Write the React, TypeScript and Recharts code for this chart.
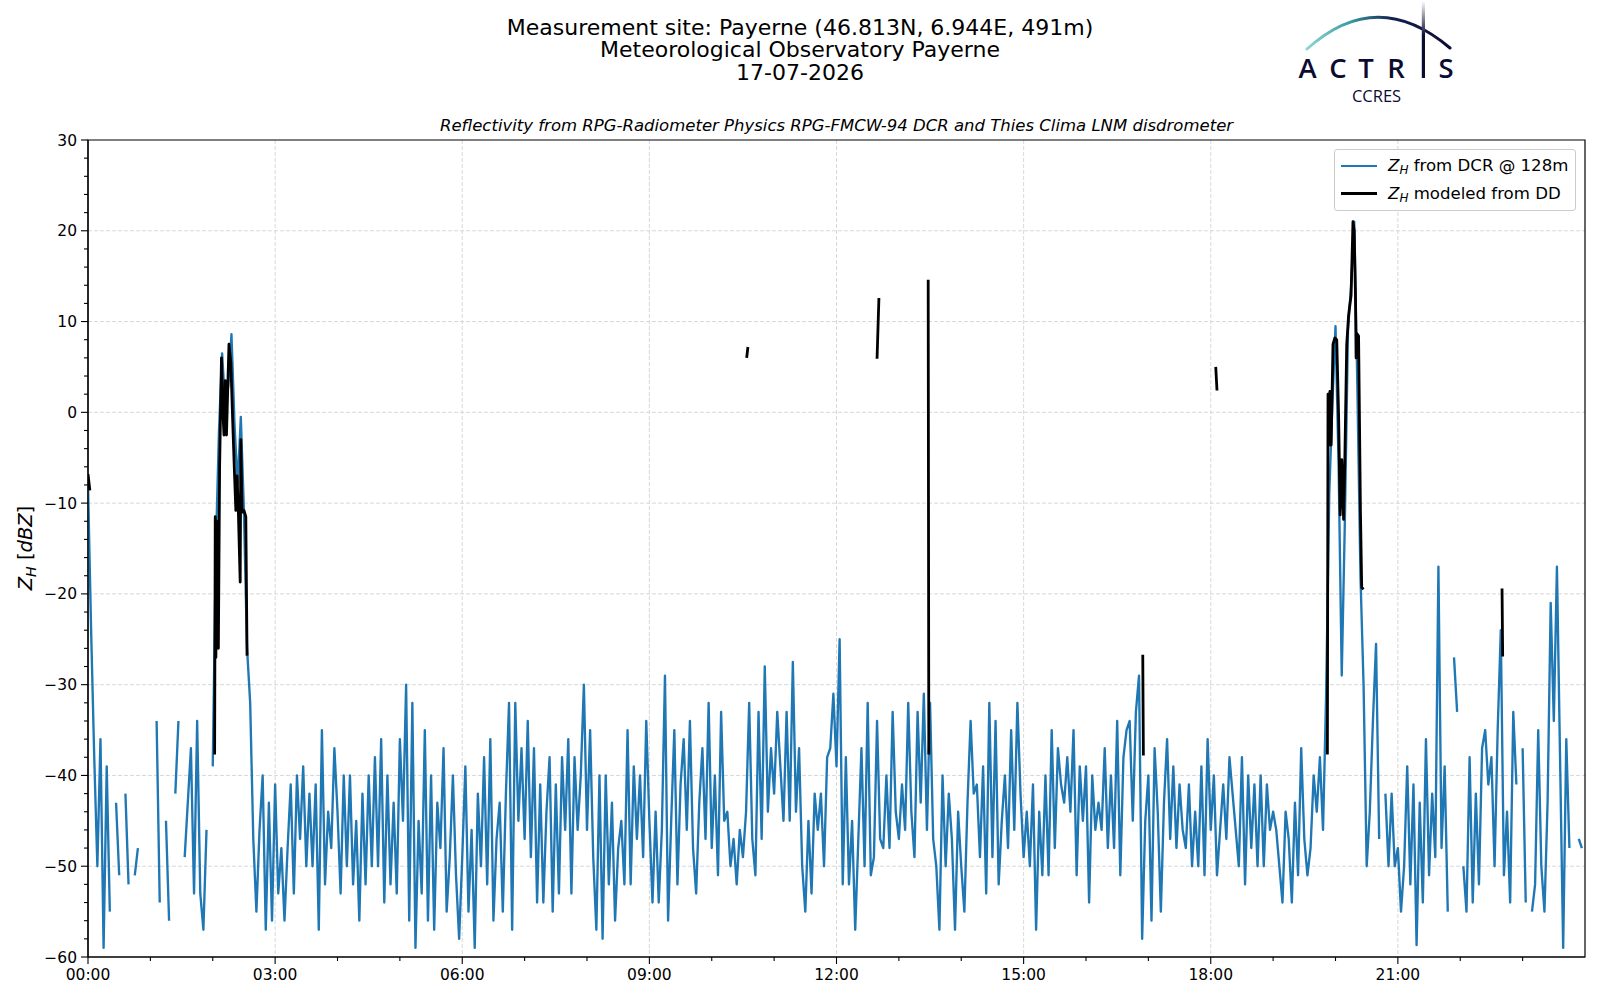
import React from "react";
import { LineChart, Line, XAxis, YAxis, CartesianGrid, ReferenceArea } from "recharts";

// DCR reflectivity at 128 m, 3-minute samples, one array per 3-hour block (null = no echo)
const dcr00 = [
  -8, -24, -38, -50, -36, -59, -39, -55, null, -43,
  -51, null, -42, -52, null, -51, -48, null, null, null,
  null, null, -34, -54, null, -45, -56, null, -42, -34,
  null, -49, -43, -37, -53, -34, -53, -57, -46, null,
  -39, -15, -2, 6.5, 0.5, 3, 8.6, -1.5, -8, -0.5,
  -11, -26, -32, -47, -55, -46, -40, -57, -43, -56,
];
const dcr03 = [
  -41, -53, -48, -56, -48, -41, -53, -40, -47, -39,
  -50, -42, -50, -41, -57, -35, -52, -44, -48, -37,
  -44, -53, -40, -50, -40, -52, -45, -56, -42, -52,
  -40, -50, -38, -50, -36, -54, -40, -52, -43, -53,
  -36, -45, -30, -56, -32, -59, -45, -53, -35, -56,
  -40, -57, -43, -48, -37, -55, -49, -40, -51, -58,
];
const dcr06 = [
  -49, -39, -55, -46, -59, -42, -50, -38, -52, -36,
  -56, -47, -43, -55, -42, -32, -57, -32, -45, -37,
  -47, -34, -49, -37, -54, -41, -54, -44, -38, -55,
  -41, -53, -38, -46, -36, -53, -38, -46, -40, -30,
  -46, -35, -49, -57, -40, -58, -40, -52, -43, -56,
  -48, -45, -52, -35, -52, -39, -47, -40, -49, -34,
];
const dcr09 = [
  -45, -54, -44, -54, -46, -29, -56, -45, -35, -52,
  -41, -36, -46, -34, -48, -53, -43, -37, -47, -32,
  -48, -40, -51, -33, -45, -44, -50, -47, -52, -46,
  -49, -44, -32, -47, -51, -33, -47, -28, -44, -37,
  -42, -33, -39, -45, -33, -45, -27.5, -44, -37, -50,
  -55, -45, -53, -42, -46, -42, -50, -38, -37, -31,
];
const dcr12 = [
  -39, -25, -52, -38, -52, -45, -57, -47, -37, -50,
  -32, -51, -49, -34, -47, -48, -40, -48, -33, -44,
  -47, -41, -46, -32, -44, -49, -33, -43, -31, -46,
  -32, -47, -50, -57, -40, -50, -42, -47, -57, -44,
  -50, -55, -43, -34, -42, -41, -49, -39, -53, -32,
  -49, -34, -52, -45, -40, -48, -35, -46, -32, -42,
];
const dcr15 = [
  -49, -44, -50, -41, -57, -44, -51, -40, -51, -35,
  -48, -37, -41, -43, -38, -44, -35, -51, -39, -45,
  -39, -54, -40, -46, -43, -46, -37, -48, -40, -48,
  -34, -51, -38, -35, -34, -45, -33, -29, -58, -45,
  -40, -56, -37, -44, -55, -43, -36, -47, -39, -48,
  -41, -46, -48, -41, -50, -44, -50, -39, -51, -36,
];
const dcr18 = [
  -46, -40, -51, -46, -41, -47, -38, -42, -46, -50,
  -38, -52, -40, -48, -41, -50, -40, -50, -41, -46,
  -44, -46, -50, -54, -44, -47, -54, -43, -51, -37,
  -47, -51, -48, -40, -44, -38, -46, -31, -9, 1,
  9.5, -6, -29, -12, 9, 14, 21, 3, -18, -30,
  -50, -44, -34, -25.5, -47, null, -42, -50, -42, -50,
];
const dcr21 = [
  -48, -55, -50, -39, -52, -41, -58.7, -43, -54, -36,
  -51, -42, -49, -17, -48, -39, -55, null, -27, -33,
  null, -50, -55, -38, -54, -42, -52, -37, -35, -41,
  -38, -50, -35, -24, -51, -44, -54, -33, -41, null,
  -37, -54, null, -55, -52, -35, -50, -55, -43, -21,
  -34, -17, -38, -59, -36, -48, null, null, -47, -48,
];
const dcrBlocks = [dcr00, dcr03, dcr06, dcr09, dcr12, dcr15, dcr18, dcr21];
const STEP_H = 0.05;

// reflectivity modeled from the disdrometer (hour, dBZ), null breaks the line
const ddTime = [
  0.0, 0.03, 0.05,
  2.03, 2.04, 2.05, 2.07, 2.09, 2.11, 2.14, 2.16, 2.18, 2.2, 2.22, 2.26, 2.29, 2.32,
  2.35, 2.37, 2.39, 2.41, 2.44, 2.45, 2.47, 2.5, 2.53, 2.55, 2.6,
  10.56, 10.58, 10.6,
  12.65, 12.68, 12.7,
  13.47, 13.48, 13.5,
  16.91, 16.92, 16.95,
  18.08, 18.1, 18.12,
  19.87, 19.88, 19.9, 19.91, 19.93, 19.96, 19.99, 20.02, 20.05, 20.075, 20.1, 20.13,
  20.15, 20.18, 20.21, 20.25, 20.28, 20.3, 20.32, 20.33, 20.34, 20.37, 20.4, 20.42, 20.45, 20.5,
  22.67, 22.68,
];
const ddZ = [
  -6.8, -8.6, null,
  -37.7, -11.5, -27, -12, -26, -6, 6, 0.5, -2.5, 3.5, -2.5, 7.5, 5.5, -1,
  -7, -10.8, -7, -10.8, -18.7, -3, -11, -10.8, -11.5, -26.8, null,
  6.0, 7.2, null,
  5.9, 12.6, null,
  14.6, -37.7, null,
  -26.7, -37.8, null,
  5.0, 2.4, null,
  -37.7, 2, -3.6, 2.3, -3.6, 7.5, 8.2, 8, -0.4, -11.3, -5.2, -11.8,
  -5, 7.5, 10.7, 12.9, 21, 20, 12.9, 6, 8.7, 8.4, -11, -19.3, -19.5, null,
  -19.4, -26.9,
];

const hourTicks = [0, 1, 2, 3, 4, 5, 6, 7, 8, 9, 10, 11, 12, 13, 14, 15, 16, 17, 18, 19, 20, 21, 22, 23];
const hourLabels = ["00:00", "03:00", "06:00", "09:00", "12:00", "15:00", "18:00", "21:00"];
const gridHours = [3, 6, 9, 12, 15, 18, 21];
const dbzTicks = [
  -60, -58, -56, -54, -52, -50, -48, -46, -44, -42, -40, -38, -36, -34, -32, -30,
  -28, -26, -24, -22, -20, -18, -16, -14, -12, -10, -8, -6, -4, -2, 0, 2, 4, 6, 8,
  10, 12, 14, 16, 18, 20, 22, 24, 26, 28, 30,
];
const gridDbz = [-50, -40, -30, -20, -10, 0, 10, 20];

const dcrData = dcrBlocks.flatMap((block, b) => block.map((z, i) => ({ t: b * 3 + i * STEP_H, z })));
const ddData = ddTime.map((t, i) => ({ t, z: ddZ[i] }));

const FONT = "'DejaVu Sans', sans-serif";
const BLUE = "#1f77b4";
const NAVY = "#0c0c33";

const HourTick = (props: any) => {
  const { x, y, payload } = props;
  const h = payload.value;
  const major = h % 3 === 0;
  return (
    <g>
      <line x1={x} x2={x} y1={y} y2={y + (major ? 7 : 4)} stroke="#000" strokeWidth={1.1} />
      {major && (
        <text x={x} y={y + 11.5} dy="0.76em" textAnchor="middle" fontSize={15.5} fontFamily={FONT} fill="#000">
          {hourLabels[h / 3]}
        </text>
      )}
    </g>
  );
};

const DbzTick = (props: any) => {
  const { x, y, payload } = props;
  const v = payload.value;
  const major = v % 10 === 0;
  const label = v < 0 ? "\u2212" + Math.abs(v) : String(v);
  return (
    <g>
      <line x1={x - (major ? 7 : 4)} x2={x} y1={y} y2={y} stroke="#000" strokeWidth={1.1} />
      {major && (
        <text x={x - 11} y={y} dy="0.36em" textAnchor="end" fontSize={15.5} fontFamily={FONT} fill="#000">
          {label}
        </text>
      )}
    </g>
  );
};

const ZH = () => (
  <>
    <span style={{ fontStyle: "italic" }}>Z</span>
    <span style={{ fontStyle: "italic", fontSize: "0.72em", position: "relative", top: "0.3em" }}>H</span>
  </>
);

const Logo = () => (
  <svg width={200} height={110} style={{ position: "absolute", left: 1280, top: 0 }}>
    <defs>
      <linearGradient id="arcGrad" x1="0" y1="0" x2="1" y2="0">
        <stop offset="0" stopColor="#8fd6cf" />
        <stop offset="0.3" stopColor="#3a9ca3" />
        <stop offset="0.6" stopColor="#13204d" />
        <stop offset="1" stopColor={NAVY} />
      </linearGradient>
      <linearGradient id="barGrad" x1="0" y1="0" x2="0" y2="1">
        <stop offset="0" stopColor="#ffffff" />
        <stop offset="0.45" stopColor={NAVY} />
        <stop offset="1" stopColor={NAVY} />
      </linearGradient>
    </defs>
    <path d="M27 49 Q97 -14 170 48" fill="none" stroke="url(#arcGrad)" strokeWidth={3} strokeLinecap="round" />
    <rect x={141.8} y={1} width={3.2} height={77} fill="url(#barGrad)" />
    <g fontFamily="'Open Sans', Lato, sans-serif" fontWeight={600} fontSize={27.5} fill={NAVY} textAnchor="middle">
      <text x={27.5} y={78}>A</text>
      <text x={58} y={78}>C</text>
      <text x={86} y={78}>T</text>
      <text x={116} y={78}>R</text>
      <text x={166} y={78}>S</text>
    </g>
    <text x={96.5} y={102} fontFamily="'Open Sans', sans-serif" fontSize={16.5} fill={NAVY} textAnchor="middle">
      CCRES
    </text>
  </svg>
);

export default function App() {
  return (
    <div
      style={{
        position: "absolute",
        left: 0,
        top: 0,
        width: 1600,
        height: 1000,
        background: "#fff",
        fontFamily: FONT,
        color: "#000",
      }}
    >
      <div style={{ position: "absolute", left: 0, top: 0 }}>
        <LineChart width={1600} height={1000} margin={{ top: 140, right: 15, bottom: 13, left: 28 }}>
          <CartesianGrid
            stroke="#d4d4d4"
            strokeDasharray="4 2"
            strokeWidth={0.9}
            horizontalValues={gridDbz}
            verticalValues={gridHours}
          />
          <XAxis
            dataKey="t"
            type="number"
            domain={[0, 24]}
            ticks={hourTicks}
            interval={0}
            height={30}
            tickSize={0}
            tickMargin={0}
            tickLine={false}
            axisLine={{ stroke: "#000", strokeWidth: 1.2 }}
            tick={(p: any) => <HourTick {...p} />}
            allowDataOverflow
          />
          <YAxis
            type="number"
            domain={[-60, 30]}
            ticks={dbzTicks}
            interval={0}
            width={60}
            tickSize={0}
            tickMargin={0}
            tickLine={false}
            axisLine={{ stroke: "#000", strokeWidth: 1.2 }}
            tick={(p: any) => <DbzTick {...p} />}
            allowDataOverflow
          />
          <Line
            data={dcrData}
            dataKey="z"
            type="linear"
            stroke={BLUE}
            strokeWidth={2.35}
            strokeLinejoin="round"
            dot={false}
            activeDot={false}
            connectNulls={false}
            isAnimationActive={false}
          />
          <Line
            data={ddData}
            dataKey="z"
            type="linear"
            stroke="#000"
            strokeWidth={2.8}
            strokeLinejoin="round"
            dot={false}
            activeDot={false}
            connectNulls={false}
            isAnimationActive={false}
          />
          <ReferenceArea x1={0} x2={24} y1={-60} y2={30} fill="none" fillOpacity={0} stroke="#000" strokeWidth={1.2} />
        </LineChart>
      </div>

      <div
        style={{
          position: "absolute",
          left: 0,
          top: 17,
          width: 1600,
          textAlign: "center",
          fontSize: 22,
          lineHeight: "22.4px",
        }}
      >
        <div>Measurement site: Payerne (46.813N, 6.944E, 491m)</div>
        <div>Meteorological Observatory Payerne</div>
        <div>17-07-2026</div>
      </div>

      <div
        style={{
          position: "absolute",
          left: 88,
          top: 115,
          width: 1497,
          textAlign: "center",
          fontSize: 16.5,
          lineHeight: "21px",
          fontStyle: "italic",
        }}
      >
        Reflectivity from RPG-Radiometer Physics RPG-FMCW-94 DCR and Thies Clima LNM disdrometer
      </div>

      <Logo />

      <div
        style={{
          position: "absolute",
          left: 25,
          top: 548,
          transform: "translate(-50%, -50%) rotate(-90deg)",
          whiteSpace: "nowrap",
          fontSize: 19.5,
        }}
      >
        <ZH /> [<span style={{ fontStyle: "italic" }}>dBZ</span>]
      </div>

      <div
        style={{
          position: "absolute",
          left: 1334,
          top: 149,
          width: 242,
          height: 62,
          boxSizing: "border-box",
          border: "1px solid #cccccc",
          borderRadius: 3,
          background: "rgba(255,255,255,0.85)",
          fontSize: 16.6,
        }}
      >
        <div style={{ position: "absolute", left: 6, top: 14.8, width: 36, height: 2.4, background: BLUE }} />
        <div style={{ position: "absolute", left: 53, top: 4.5, whiteSpace: "nowrap", lineHeight: "22px" }}>
          <ZH /> from DCR @ 128m
        </div>
        <div style={{ position: "absolute", left: 6, top: 42.4, width: 36, height: 2.8, background: "#000" }} />
        <div style={{ position: "absolute", left: 53, top: 32.5, whiteSpace: "nowrap", lineHeight: "22px" }}>
          <ZH /> modeled from DD
        </div>
      </div>
    </div>
  );
}
